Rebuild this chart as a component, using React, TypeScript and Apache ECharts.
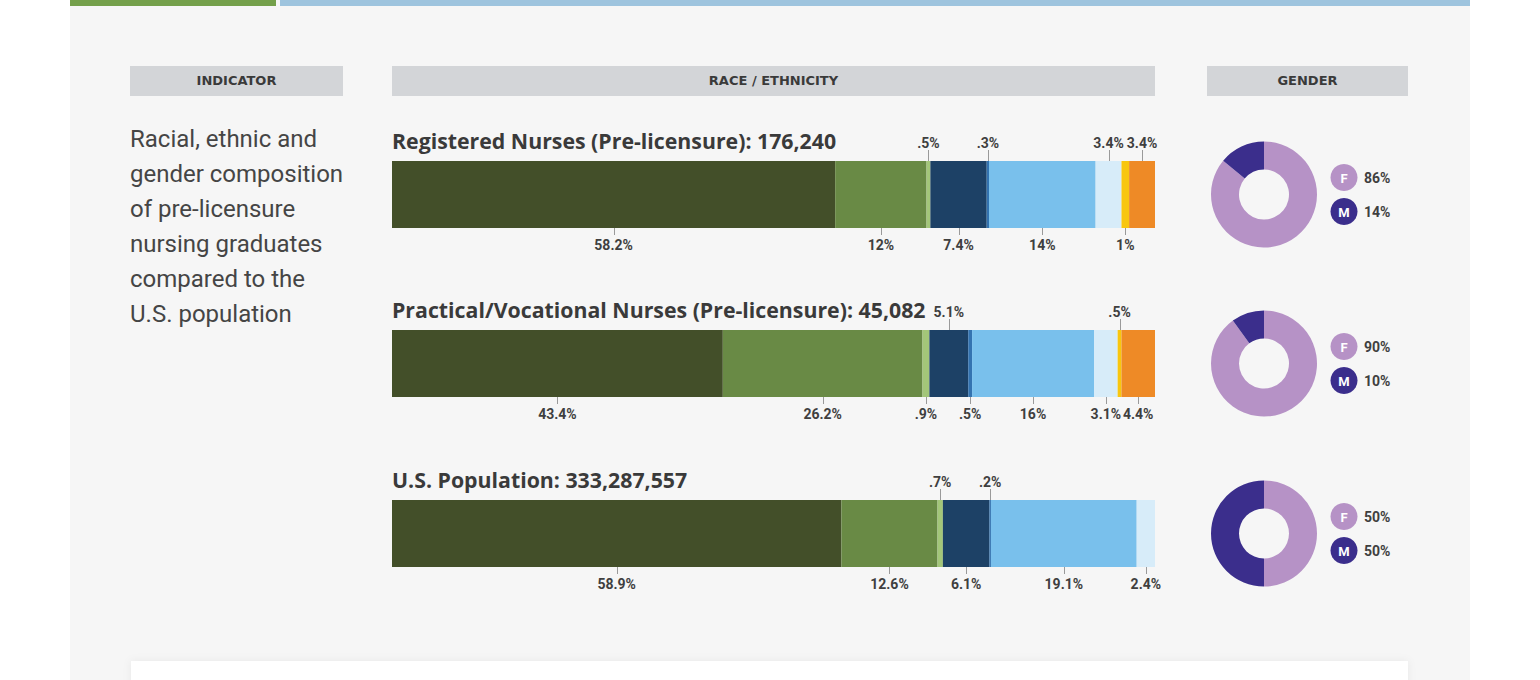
import React, { useEffect, useRef } from "react";
import * as echarts from "echarts";

// ---------- data ----------
const categories = [
  "White",
  "Hispanic/Latino",
  "American Indian/Alaska Native",
  "Asian",
  "Native Hawaiian/Pacific Islander",
  "Black/African American",
  "Two or more races",
  "Other",
  "Unknown",
];
const segmentColors = ["#434f29", "#698a45", "#a3c679", "#1d4166", "#3473b0", "#79c0ec", "#d7ecf9", "#f8c60f", "#ee8a26"];

const headerLabels = ["INDICATOR", "RACE / ETHNICITY", "GENDER"];
const indicatorLines = [
  "Racial, ethnic and",
  "gender composition",
  "of pre-licensure",
  "nursing graduates",
  "compared to the",
  "U.S. population",
];
const rowTitles = [
  "Registered Nurses (Pre-licensure): 176,240",
  "Practical/Vocational Nurses (Pre-licensure): 45,082",
  "U.S. Population: 333,287,557",
];
const rnValues = [58.2, 12, 0.5, 7.4, 0.3, 14, 3.4, 1, 3.4];
const lpnValues = [43.4, 26.2, 0.9, 5.1, 0.5, 16, 3.1, 0.5, 4.4];
const usValues = [58.9, 12.6, 0.7, 6.1, 0.2, 19.1, 2.4];
const rnLabelSides = ["bottom", "bottom", "top", "bottom", "top", "bottom", "top", "bottom", "top"];
const lpnLabelSides = ["bottom", "bottom", "bottom", "top", "bottom", "bottom", "bottom", "top", "bottom"];
const usLabelSides = ["bottom", "bottom", "top", "bottom", "top", "bottom", "bottom"];

const genderLabels = ["F", "M"];
const genderColors = ["#b692c6", "#3b2e8c"];
const rnGender = [86, 14];
const lpnGender = [90, 10];
const usGender = [50, 50];

const rowsValues = [rnValues, lpnValues, usValues];
const rowsSides = [rnLabelSides, lpnLabelSides, usLabelSides];
const rowsGender = [rnGender, lpnGender, usGender];

// ---------- layout ----------
const BAR_LEFT = 392;
const BAR_WIDTH = 763;
const BAR_HEIGHT = 67;
const BAR_TOPS = [161, 330, 500];
const DONUT_X = 1264;
const TEXT = "#3f3f3f";
const LABEL_FONT = "bold 14px Roboto";

function fmt(v: number) {
  return String(v).replace(/^0\./, ".") + "%";
}

export default function App() {
  const ref = useRef<HTMLDivElement>(null);
  useEffect(() => {
    if (!ref.current) return;
    const chart = echarts.init(ref.current, null, { renderer: "svg" });

    const grids: any[] = [];
    const xAxes: any[] = [];
    const yAxes: any[] = [];
    const series: any[] = [];
    const graphics: any[] = [];

    // backgrounds
    graphics.push(
      { type: "rect", shape: { x: 70, y: 0, width: 1400, height: 680 }, style: { fill: "#f6f6f6" }, z: -10 },
      { type: "rect", shape: { x: 70, y: 0, width: 206, height: 6 }, style: { fill: "#74a04b" }, z: -9 },
      { type: "rect", shape: { x: 280, y: 0, width: 1190, height: 6 }, style: { fill: "#9ec4de" }, z: -9 },
      {
        type: "rect",
        shape: { x: 131, y: 661, width: 1277, height: 40 },
        style: { fill: "#ffffff", shadowBlur: 8, shadowColor: "rgba(0,0,0,0.06)" },
        z: -8,
      }
    );
    const headerBoxes = [
      [130, 213],
      [392, 763],
      [1207, 201],
    ];
    headerBoxes.forEach((b, i) => {
      graphics.push({ type: "rect", shape: { x: b[0], y: 66, width: b[1], height: 30 }, style: { fill: "#d3d5d8" } });
      graphics.push({
        type: "text",
        x: b[0] + b[1] / 2,
        y: 80,
        style: {
          text: headerLabels[i],
          font: "bold 13px 'DejaVu Sans'",
          fill: "#3a3a3a",
          align: "center",
          verticalAlign: "middle",
        },
      });
    });
    indicatorLines.forEach((t, i) => {
      graphics.push({
        type: "text",
        x: 130,
        y: 139 + i * 35,
        style: { text: t, font: "24px Roboto", fill: "#454545", align: "left", verticalAlign: "middle" },
      });
    });

    rowsValues.forEach((vals, r) => {
      const top = BAR_TOPS[r];
      const total = vals.reduce((a, b) => a + b, 0);
      grids.push({ left: BAR_LEFT, width: BAR_WIDTH, top, height: BAR_HEIGHT, containLabel: false });
      xAxes.push({ type: "value", gridIndex: r, min: 0, max: total, show: false });
      yAxes.push({ type: "category", gridIndex: r, data: ["row"], show: false });

      vals.forEach((v, i) => {
        series.push({
          type: "bar",
          name: categories[i],
          xAxisIndex: r,
          yAxisIndex: r,
          stack: "row" + r,
          barWidth: "100%",
          data: [v],
          itemStyle: { color: segmentColors[i] },
          silent: true,
        });
      });

      // labels with leader ticks
      let cum = 0;
      const labelData: any[] = [];
      const labelTexts: string[] = [];
      vals.forEach((v, i) => {
        labelData.push([cum + v / 2, 0, rowsSides[r][i] === "top" ? 1 : -1]);
        labelTexts.push(fmt(v));
        cum += v;
      });
      series.push({
        type: "custom",
        xAxisIndex: r,
        yAxisIndex: r,
        silent: true,
        z: 5,
        data: labelData,
        renderItem: (params: any, api: any) => {
          const c = api.coord([api.value(0), 0]);
          const band = api.size([0, 1])[1];
          const side = api.value(2);
          const barTop = c[1] - band / 2;
          const barBot = c[1] + band / 2;
          const x = Math.round(c[0]) + 0.5;
          const text = labelTexts[params.dataIndex];
          if (side > 0) {
            return {
              type: "group",
              children: [
                { type: "line", shape: { x1: x, y1: barTop - 11, x2: x, y2: barTop }, style: { stroke: "#9a9a9a", lineWidth: 1 } },
                {
                  type: "text",
                  x: c[0],
                  y: barTop - 18,
                  style: { text, font: LABEL_FONT, fill: TEXT, align: "center", verticalAlign: "middle" },
                },
              ],
            };
          }
          return {
            type: "group",
            children: [
              { type: "line", shape: { x1: x, y1: barBot, x2: x, y2: barBot + 7 }, style: { stroke: "#9a9a9a", lineWidth: 1 } },
              {
                type: "text",
                x: c[0],
                y: barBot + 17,
                style: { text, font: LABEL_FONT, fill: TEXT, align: "center", verticalAlign: "middle" },
              },
            ],
          };
        },
      });

      // row title
      graphics.push({
        type: "text",
        x: 392,
        y: top - 21,
        style: { text: rowTitles[r], font: "bold 21.3px 'Open Sans'", fill: "#3a3a3a", align: "left", verticalAlign: "middle" },
      });

      // donut
      const cy = top + BAR_HEIGHT / 2;
      series.push({
        type: "pie",
        center: [DONUT_X, cy],
        radius: [25, 53],
        startAngle: 90,
        clockwise: true,
        silent: true,
        label: { show: false },
        labelLine: { show: false },
        emphasis: { disabled: true },
        data: rowsGender[r].map((g, i) => ({ name: genderLabels[i], value: g, itemStyle: { color: genderColors[i] } })),
      });

      // gender legend
      rowsGender[r].forEach((g, i) => {
        const ly = cy - 17 + i * 34;
        graphics.push({ type: "circle", shape: { cx: 1344, cy: ly, r: 13.5 }, style: { fill: genderColors[i] } });
        graphics.push({
          type: "text",
          x: 1344,
          y: ly + 0.5,
          style: { text: genderLabels[i], font: "bold 13px Roboto", fill: "#ffffff", align: "center", verticalAlign: "middle" },
        });
        graphics.push({
          type: "text",
          x: 1364,
          y: ly,
          style: { text: g + "%", font: "bold 14px Roboto", fill: TEXT, align: "left", verticalAlign: "middle" },
        });
      });
    });

    chart.setOption({
      animation: false,
      backgroundColor: "#ffffff",
      grid: grids,
      xAxis: xAxes,
      yAxis: yAxes,
      series,
      graphic: graphics,
    });
    return () => chart.dispose();
  }, []);

  return <div ref={ref} style={{ position: "absolute", left: 0, top: 0, width: 1540, height: 680 }} />;
}
